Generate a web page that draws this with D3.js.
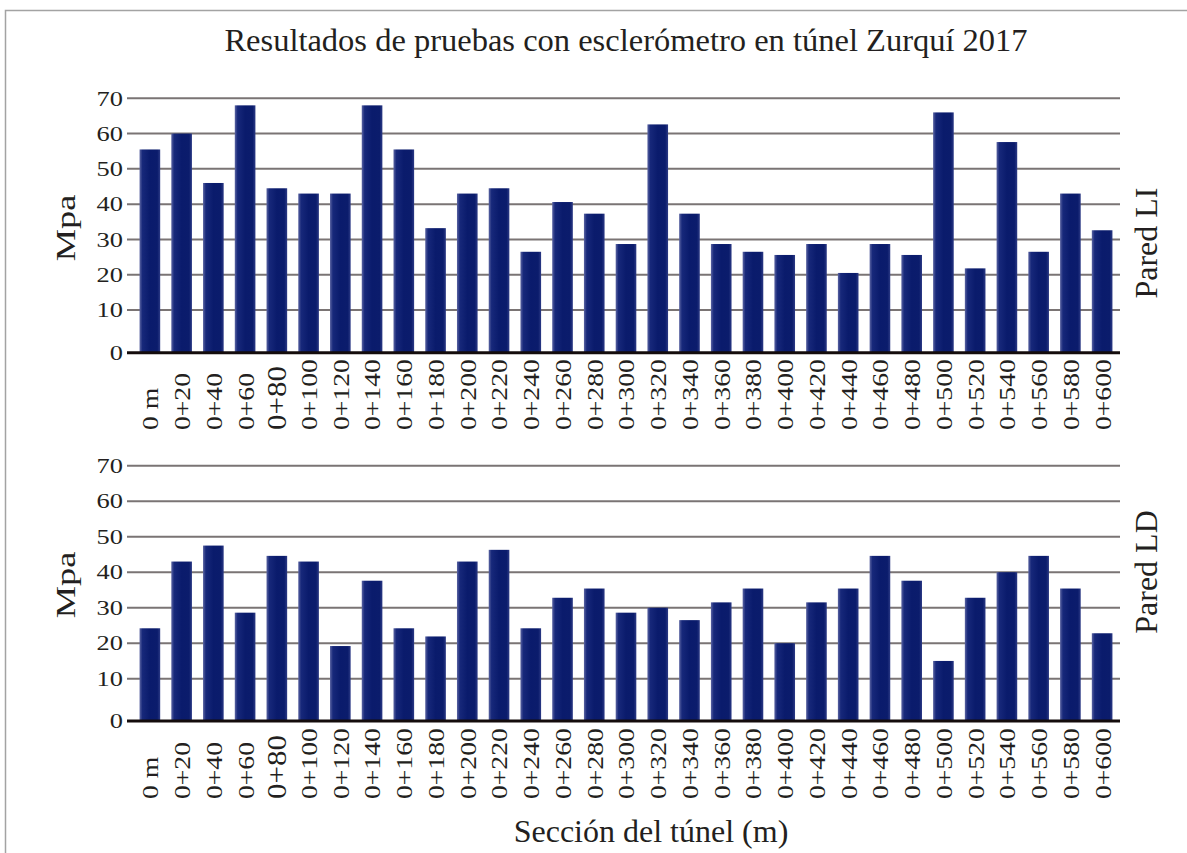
<!DOCTYPE html>
<html>
<head>
<meta charset="utf-8">
<script src="https://cdn.jsdelivr.net/npm/d3@7"></script>
<style>
  body { margin: 0; background: #fff; }
  svg { display: block; font-family: "Liberation Serif", "Times New Roman", serif; }
</style>
</head>
<body>
<div id="chart"></div>
<script>
const sections = ["0 m", "0+20", "0+40", "0+60", "0+80", "0+100", "0+120", "0+140", "0+160", "0+180",
  "0+200", "0+220", "0+240", "0+260", "0+280", "0+300", "0+320", "0+340", "0+360", "0+380",
  "0+400", "0+420", "0+440", "0+460", "0+480", "0+500", "0+520", "0+540", "0+560", "0+580", "0+600"];

// Pared LI (top panel)
const valuesLI = [55.5, 60, 46, 68, 44.5, 43, 43, 68, 55.5, 33.2,
  43, 44.5, 26.5, 40.6, 37.3, 28.7, 62.6, 37.3, 28.7, 26.5,
  25.6, 28.7, 20.5, 28.7, 25.6, 66, 21.8, 57.6, 26.5, 43, 32.6];

// Pared LD (bottom panel)
const valuesLD = [24.2, 43, 47.5, 28.6, 44.6, 43, 19.2, 37.6, 24.2, 21.9,
  43, 46.3, 24.2, 32.8, 35.4, 28.6, 30, 26.5, 31.5, 35.4,
  20, 31.5, 35.4, 44.6, 37.6, 15, 32.8, 40, 44.6, 35.4, 22.8];

const yTicks = [0, 10, 20, 30, 40, 50, 60, 70];

const width = 1187, height = 853;
const textColor = "#231f20";

const svg = d3.select("#chart").append("svg")
  .attr("width", width)
  .attr("height", height);

const defs = svg.append("defs");
const grad = defs.append("linearGradient").attr("id", "barGrad")
  .attr("x1", "0%").attr("x2", "100%").attr("y1", "0%").attr("y2", "0%");
grad.append("stop").attr("offset", "0%").attr("stop-color", "#5b64a2");
grad.append("stop").attr("offset", "14%").attr("stop-color", "#17287a");
grad.append("stop").attr("offset", "50%").attr("stop-color", "#0a1b6c");
grad.append("stop").attr("offset", "86%").attr("stop-color", "#0b1c6c");
grad.append("stop").attr("offset", "100%").attr("stop-color", "#2c3a85");

// outer frame
svg.append("rect")
  .attr("x", 5.5).attr("y", 10.5)
  .attr("width", 1300).attr("height", 1000)
  .attr("fill", "none")
  .attr("stroke", "#a3a3a3")
  .attr("stroke-width", 1.5);

svg.append("text")
  .attr("x", 626).attr("y", 51)
  .attr("text-anchor", "middle")
  .attr("font-size", 32.5)
  .attr("fill", textColor)
  .text("Resultados de pruebas con esclerómetro en túnel Zurquí 2017");

const xScale = d3.scaleBand()
  .domain(sections)
  .range([134, 1118])
  .paddingInner(0.35)
  .paddingOuter(0.175);

const gridLeft = 127, gridRight = 1120;

function drawPanel(values, y0, y10, y70, labelBottom, sideLabel, sideY, mpaY) {
  const yScale = d3.scaleLinear().domain([0, 10, 70]).range([y0, y10, y70]);
  const g = svg.append("g");

  // gridlines
  g.append("g")
    .selectAll("line")
    .data(yTicks.filter(d => d > 0))
    .join("line")
    .attr("x1", gridLeft).attr("x2", gridRight)
    .attr("y1", d => yScale(d)).attr("y2", d => yScale(d))
    .attr("stroke", "#7a7474")
    .attr("stroke-width", 2);

  // tick labels
  g.append("g")
    .selectAll("text")
    .data(yTicks)
    .join("text")
    .attr("transform", d => `translate(123,${yScale(d)}) scale(1.2,1)`)
    .attr("dy", "0.33em")
    .attr("text-anchor", "end")
    .attr("font-size", 22)
    .attr("fill", textColor)
    .text(d => d);

  // bars
  g.append("g")
    .selectAll("rect")
    .data(values)
    .join("rect")
    .attr("x", (d, i) => xScale(sections[i]))
    .attr("width", xScale.bandwidth())
    .attr("y", d => yScale(d))
    .attr("height", d => yScale(0) - yScale(d))
    .attr("fill", "url(#barGrad)");

  // baseline
  g.append("line")
    .attr("x1", gridLeft).attr("x2", gridRight)
    .attr("y1", yScale(0)).attr("y2", yScale(0))
    .attr("stroke", "#140c0c")
    .attr("stroke-width", 3);

  // section labels, rotated
  g.append("g")
    .selectAll("g")
    .data(sections)
    .join("g")
    .attr("transform", d => `translate(${xScale(d) + xScale.bandwidth() / 2},${labelBottom}) rotate(-90)`)
    .append("text")
    .attr("transform", "scale(1.15,1)")
    .attr("dy", "0.35em")
    .attr("text-anchor", "start")
    .attr("font-size", d => d === "0+80" ? 27 : 24)
    .attr("fill", textColor)
    .text(d => d);

  // y axis title
  g.append("text")
    .attr("transform", `translate(75,${mpaY}) rotate(-90) scale(1.3,1)`)
    .attr("text-anchor", "middle")
    .attr("font-size", 28)
    .attr("fill", textColor)
    .text("Mpa");

  // side label
  g.append("text")
    .attr("transform", `translate(1157,${sideY}) rotate(-90)`)
    .attr("text-anchor", "middle")
    .attr("font-size", 32)
    .attr("fill", textColor)
    .text(sideLabel);
}

drawPanel(valuesLI, 352.7, 310, 98.3, 430, "Pared LI", 243, 228);
drawPanel(valuesLD, 721, 678.7, 465.7, 799, "Pared LD", 572, 585);

svg.append("text")
  .attr("x", 651).attr("y", 842)
  .attr("text-anchor", "middle")
  .attr("font-size", 32)
  .attr("fill", textColor)
  .text("Sección del túnel (m)");
</script>
</body>
</html>
